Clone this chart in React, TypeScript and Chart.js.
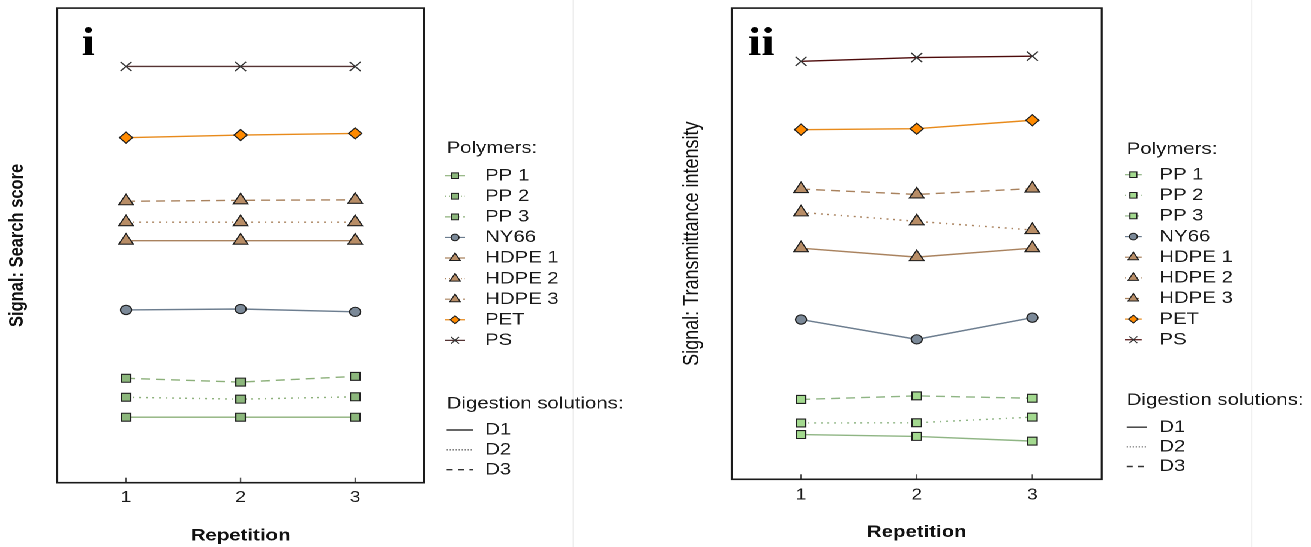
import React, { useEffect, useRef } from 'react';
import { Chart, registerables } from 'chart.js';

Chart.register(...registerables);

// ---------- data ----------
const repetitions = [1, 2, 3];
const xTickValues = [1, 2, 3];
const polymerNames = ['PP 1', 'PP 2', 'PP 3', 'NY66', 'HDPE 1', 'HDPE 2', 'HDPE 3', 'PET', 'PS'];
const digestionNames = ['D1', 'D2', 'D3'];

// Panel i – Signal: Search score (relative units, axis 0–100, no ticks shown)
const searchPP1 = [13.8, 13.8, 13.8];
const searchPP2 = [18.0, 17.6, 18.1];
const searchPP3 = [22.0, 21.2, 22.4];
const searchNY66 = [36.4, 36.6, 36.0];
const searchHDPE1 = [51.0, 51.0, 51.0];
const searchHDPE2 = [54.9, 54.9, 54.9];
const searchHDPE3 = [59.3, 59.5, 59.6];
const searchPET = [72.7, 73.25, 73.6];
const searchPS = [87.7, 87.7, 87.7];

// Panel ii – Signal: Transmittance intensity (relative units)
const transPP1 = [9.5, 9.1, 8.1];
const transPP2 = [11.95, 12.0, 13.2];
const transPP3 = [16.95, 17.7, 17.2];
const transNY66 = [33.9, 29.7, 34.3];
const transHDPE1 = [49.05, 47.15, 49.05];
const transHDPE2 = [56.65, 54.75, 52.9];
const transHDPE3 = [61.6, 60.45, 61.7];
const transPET = [74.2, 74.4, 76.2];
const transPS = [88.7, 89.5, 89.8];

const searchSeries = [searchPP1, searchPP2, searchPP3, searchNY66, searchHDPE1, searchHDPE2, searchHDPE3, searchPET, searchPS];
const transSeries = [transPP1, transPP2, transPP3, transNY66, transHDPE1, transHDPE2, transHDPE3, transPET, transPS];

// ---------- styles ----------
const FONT = '"Liberation Sans", Arial, Helvetica, sans-serif';
const DASH_D1: number[] = [];
const DASH_D2 = [1.5, 4];
const DASH_D3 = [7.5, 5];
const digestionDashes = [DASH_D1, DASH_D2, DASH_D3];

type PStyle = { point: string; r: number; fill: string; line: string; dash: number[]; stroke: string };

function polymerStyles(panel: number): PStyle[] {
  const ppFill = panel === 0 ? '#8cb77c' : '#a3d98f';
  const ppLine = panel === 0 ? '#8cb07a' : '#8fb584';
  const nyFill = '#7b8998', nyLine = '#6c7d8f';
  const hdFill = '#b88d66', hdLine = '#a9825e';
  const petFill = '#ff8a00', petLine = '#e88a1a';
  const psLine = panel === 0 ? '#553333' : '#4d0a0a';
  const k = '#1f1f1f';
  return [
    { point: 'rect', r: 5.6, fill: ppFill, line: ppLine, dash: DASH_D1, stroke: k },
    { point: 'rect', r: 5.6, fill: ppFill, line: ppLine, dash: DASH_D2, stroke: k },
    { point: 'rect', r: 5.6, fill: ppFill, line: ppLine, dash: DASH_D3, stroke: k },
    { point: 'circle', r: 4.6, fill: nyFill, line: nyLine, dash: DASH_D1, stroke: k },
    { point: 'triangle', r: 7, fill: hdFill, line: hdLine, dash: DASH_D1, stroke: k },
    { point: 'triangle', r: 7, fill: hdFill, line: hdLine, dash: DASH_D2, stroke: k },
    { point: 'triangle', r: 7, fill: hdFill, line: hdLine, dash: DASH_D3, stroke: k },
    { point: 'rectRot', r: 5.5, fill: petFill, line: petLine, dash: DASH_D1, stroke: k },
    { point: 'crossRot', r: 6.5, fill: '#333333', line: psLine, dash: DASH_D1, stroke: '#333333' },
  ];
}

function drawMarker(ctx: CanvasRenderingContext2D, style: string, x: number, y: number, r: number, fill: string, stroke: string, lw: number) {
  ctx.save();
  ctx.setLineDash([]);
  ctx.beginPath();
  ctx.fillStyle = fill;
  ctx.strokeStyle = stroke;
  ctx.lineWidth = lw;
  if (style === 'rect') {
    const s = r * Math.SQRT1_2;
    ctx.rect(x - s, y - s, 2 * s, 2 * s);
  } else if (style === 'circle') {
    ctx.arc(x, y, r, 0, Math.PI * 2);
  } else if (style === 'triangle') {
    ctx.moveTo(x, y - r);
    ctx.lineTo(x + r * 0.866, y + r * 0.5);
    ctx.lineTo(x - r * 0.866, y + r * 0.5);
    ctx.closePath();
  } else if (style === 'rectRot') {
    ctx.moveTo(x - r, y);
    ctx.lineTo(x, y - r);
    ctx.lineTo(x + r, y);
    ctx.lineTo(x, y + r);
    ctx.closePath();
  } else if (style === 'crossRot') {
    const s = r * Math.SQRT1_2;
    ctx.moveTo(x - s, y - s);
    ctx.lineTo(x + s, y + s);
    ctx.moveTo(x - s, y + s);
    ctx.lineTo(x + s, y - s);
    ctx.stroke();
    ctx.restore();
    return;
  }
  ctx.fill();
  ctx.stroke();
  ctx.restore();
}

type PanelCfg = {
  key: number;
  left: number;
  label: string;
  labelX: number;
  yTitle: string;
  yTitleBold: boolean;
  yTitleSize: number;
  yTitlePad: number;
  yWidth: number;
  padRight: number;
  padTop: number;
  xHeight: number;
  tickPad: number;
  xTitlePad: number;
  series: number[][];
  sepX: number;
  leg: {
    titleX: number; sx0: number; sx1: number; textX: number;
    titleY: number; firstY: number; step: number;
    digTitleY: number; digFirstY: number; digStep: number; dx1: number;
  };
};

const panels: PanelCfg[] = [
  {
    key: 0, left: 0, label: 'i', labelX: 68,
    yTitle: 'Signal: Search score', yTitleBold: true, yTitleSize: 16.5, yTitlePad: 4.7,
    yWidth: 47.75, padRight: 546 - 353.3, padTop: 5.7, xHeight: 547 - 482.7,
    tickPad: 5.4, xTitlePad: 1.0, series: searchSeries, sepX: 477.75,
    leg: { titleX: 372.2, sx0: 370.8, sx1: 387.5, textX: 404.2, titleY: 148.3, firstY: 175.7, step: 20.58, digTitleY: 403.7, digFirstY: 430, digStep: 19.85, dx1: 394.4 },
  },
  {
    key: 1, left: 546, label: 'ii', labelX: 77.3,
    yTitle: 'Signal: Transmittance intensity', yTitleBold: false, yTitleSize: 18, yTitlePad: 20.3,
    yWidth: 63.75, padRight: 546 - 372.1, padTop: 5.7, xHeight: 547 - 479.3,
    tickPad: 6.2, xTitlePad: 4.6, series: transSeries, sepX: 497.1,
    leg: { titleX: 392.9, sx0: 391.5, sx1: 405.4, textX: 420.1, titleY: 149.3, firstY: 174.7, step: 20.63, digTitleY: 400.5, digFirstY: 427.2, digStep: 19.65, dx1: 409.6 },
  },
];

function buildConfig(cfg: PanelCfg): any {
  const styles = polymerStyles(cfg.key);
  const datasets = polymerNames.map((name, i) => {
    const st = styles[i];
    return {
      label: name,
      data: repetitions.map((rep, j) => ({ x: rep, y: cfg.series[i][j] })),
      borderColor: st.line,
      borderWidth: 1.4,
      borderDash: st.dash,
      pointStyle: st.point,
      pointRadius: st.r,
      pointBackgroundColor: st.fill,
      pointBorderColor: st.stroke,
      pointBorderWidth: st.point === 'crossRot' ? 1.2 : 1.1,
      fill: false,
      tension: 0,
      clip: false,
    };
  });

  const decor = {
    id: 'decor',
    beforeDatasetsDraw(chart: any) {
      const { ctx, chartArea: a, scales } = chart;
      ctx.save();
      // separator line (faint)
      ctx.strokeStyle = '#eeeeee';
      ctx.lineWidth = 1;
      ctx.beginPath();
      ctx.moveTo(cfg.sepX, 0);
      ctx.lineTo(cfg.sepX, 547);
      ctx.stroke();
      // inner tick marks
      ctx.strokeStyle = '#555555';
      ctx.lineWidth = 1.2;
      xTickValues.forEach((v) => {
        const px = scales.x.getPixelForValue(v);
        ctx.beginPath();
        ctx.moveTo(px, a.bottom);
        ctx.lineTo(px, a.bottom - 5);
        ctx.stroke();
      });
      // box
      ctx.strokeStyle = '#1a1a1a';
      ctx.lineWidth = 1.6;
      ctx.strokeRect(a.left, a.top, a.right - a.left, a.bottom - a.top);
      // panel label
      ctx.fillStyle = '#000';
      ctx.font = 'bold 40px "Liberation Serif", "Times New Roman", serif';
      ctx.textBaseline = 'alphabetic';
      ctx.textAlign = 'left';
      ctx.fillText(cfg.label, cfg.labelX, 55);
      ctx.restore();
    },
    afterDraw(chart: any) {
      const { ctx } = chart;
      const L = cfg.leg;
      ctx.save();
      ctx.fillStyle = '#1a1a1a';
      ctx.font = `17px ${FONT}`;
      ctx.textBaseline = 'middle';
      ctx.textAlign = 'left';
      ctx.fillText('Polymers:', L.titleX, L.titleY);
      polymerNames.forEach((name, i) => {
        const st = styles[i];
        const y = L.firstY + i * L.step;
        ctx.save();
        ctx.strokeStyle = st.line;
        ctx.lineWidth = 1.2;
        ctx.setLineDash(st.dash.map((d) => d * 0.6));
        ctx.beginPath();
        ctx.moveTo(L.sx0, y);
        ctx.lineTo(L.sx1, y);
        ctx.stroke();
        ctx.restore();
        const mx = (L.sx0 + L.sx1) / 2;
        drawMarker(ctx, st.point, mx, y, st.r * 0.72, st.fill, st.stroke, 1);
        ctx.fillStyle = '#1a1a1a';
        ctx.fillText(name, L.textX, y);
      });
      ctx.fillText('Digestion solutions:', L.titleX, L.digTitleY);
      digestionNames.forEach((name, i) => {
        const y = L.digFirstY + i * L.digStep;
        ctx.save();
        ctx.strokeStyle = '#333333';
        ctx.lineWidth = i === 1 ? 1 : 1.4;
        ctx.setLineDash(i === 0 ? [] : i === 1 ? [1, 1.5] : [5, 4.5]);
        ctx.beginPath();
        ctx.moveTo(L.titleX, y);
        ctx.lineTo(L.dx1, y);
        ctx.stroke();
        ctx.restore();
        ctx.fillStyle = '#1a1a1a';
        ctx.fillText(name, L.textX, y);
      });
      ctx.restore();
    },
  };

  return {
    type: 'line',
    data: { datasets },
    options: {
      animation: false,
      responsive: false,
      devicePixelRatio: 2,
      events: [],
      layout: { padding: { left: 0, right: cfg.padRight, top: cfg.padTop, bottom: 0 } },
      plugins: {
        legend: { display: false },
        tooltip: { enabled: false },
      },
      scales: {
        x: {
          type: 'linear',
          min: 0.4,
          max: 3.6,
          afterBuildTicks: (s: any) => {
            s.ticks = xTickValues.map((v) => ({ value: v }));
          },
          afterFit: (s: any) => {
            s.height = cfg.xHeight;
          },
          grid: { display: false, drawTicks: false },
          border: { display: false },
          ticks: {
            padding: cfg.tickPad,
            color: '#1a1a1a',
            font: { size: 16, family: FONT },
            autoSkip: false,
            maxRotation: 0,
            callback: (v: any) => String(v),
          },
          title: {
            display: true,
            text: 'Repetition',
            color: '#111111',
            font: { size: 17, weight: 'bold', family: FONT },
            padding: { top: 0, bottom: cfg.xTitlePad },
          },
        },
        y: {
          min: 0,
          max: 100,
          afterFit: (s: any) => {
            s.width = cfg.yWidth;
          },
          ticks: { display: false },
          grid: { display: false, drawTicks: false },
          border: { display: false },
          title: {
            display: true,
            text: cfg.yTitle,
            color: '#111111',
            font: { size: cfg.yTitleSize, weight: cfg.yTitleBold ? 'bold' : 'normal', family: FONT },
            padding: { top: cfg.yTitlePad, bottom: 0 },
          },
        },
      },
    },
    plugins: [decor],
  };
}

function Panel({ cfg }: { cfg: PanelCfg }) {
  const ref = useRef<HTMLCanvasElement>(null);
  useEffect(() => {
    if (!ref.current) return;
    const chart = new Chart(ref.current, buildConfig(cfg));
    return () => chart.destroy();
  }, []);
  return (
    <canvas
      ref={ref}
      width={546}
      height={547}
      style={{ position: 'absolute', left: cfg.left, top: 0, width: '546px', height: '547px' }}
    />
  );
}

export default function App() {
  return (
    <div
      style={{
        position: 'absolute',
        left: 0,
        top: 0,
        width: 1092.5,
        height: 547,
        transform: 'scaleX(1.2)',
        transformOrigin: '0 0',
        background: '#ffffff',
        overflow: 'hidden',
      }}
    >
      {panels.map((p) => (
        <Panel key={p.key} cfg={p} />
      ))}
    </div>
  );
}
